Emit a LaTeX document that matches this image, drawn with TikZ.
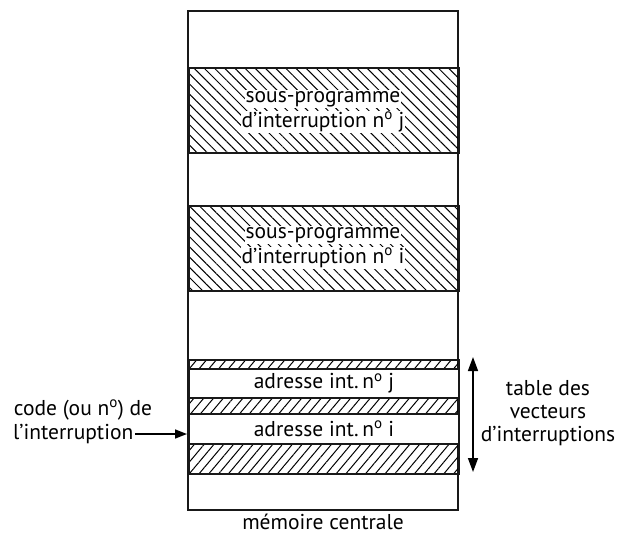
\documentclass[tikz,border=0pt]{standalone}
\usepackage{fontspec}
\setmainfont{PT Sans}
\usetikzlibrary{patterns.meta,arrows.meta}
\newcommand{\numo}{n\textsuperscript{o}}
\begin{document}
\begin{tikzpicture}[x=1pt,y=-1pt,
  frame/.style={draw=black!90,line width=2pt},
  hatchA/.style={frame,pattern={Lines[angle=-45,distance=7.2pt,line width=1pt]}},
  hatchB/.style={frame,pattern={Lines[angle=50,distance=7.5pt,line width=1pt]}},
  lab/.style={font=\fontsize{21.5}{23}\selectfont,inner sep=1.5pt},
  wlab/.style={lab,fill=white,inner sep=1pt},
  arr/.style={line width=1.5pt,-{Triangle[length=12pt,width=9pt]}}
]
\useasboundingbox (0,0) rectangle (619,536);
% memory
\draw[frame] (188,11) rectangle (458,510);
\coordinate (memW) at (187,434);
% sub-programs
\node[hatchA,minimum width=270pt,minimum height=85pt,anchor=north west] (spj) at (188,67) {};
\node[hatchA,minimum width=270pt,minimum height=85pt,anchor=north west] (spi) at (188,205) {};
\node[wlab] (spj1) at (323,99) {sous-programme};
\node[wlab] (spj2) at (323,122) {d'interruption \numo\ j};
\node[wlab] (spi1) at (323,235) {sous-programme};
\node[wlab] (spi2) at (323,258) {d'interruption \numo\ i};
% vector table
\node[hatchB,minimum width=270pt,minimum height=9pt,anchor=north west,inner sep=0pt] (h1) at (188,359) {};
\node[frame,fill=white,minimum width=270pt,minimum height=29pt,anchor=north west,inner sep=0pt] (aj) at (188,368) {};
\node[hatchB,minimum width=270pt,minimum height=16pt,anchor=north west,inner sep=0pt] (h2) at (188,397) {};
\node[frame,fill=white,minimum width=270pt,minimum height=30pt,anchor=north west,inner sep=0pt] (ai) at (188,413) {};
\node[hatchB,minimum width=270pt,minimum height=30pt,anchor=north west,inner sep=0pt] (h3) at (188,443) {};
\node[lab] (ajt) at (aj.center) {adresse int.\,\numo\ j};
\node[lab] (ait) at (ai.center) {adresse int.\,\numo\ i};
% left label
\node[lab] (code1) at (83,410) {code (ou \numo) de};
\node[lab,anchor=east] (code2) at (135,434) {l'interruption};
\draw[arr] (code2.east) -- (memW);
% right label
\coordinate (tt) at (473,357);
\coordinate (tb) at (473,472);
\draw[line width=1.5pt,{Triangle[length=14pt,width=10pt]}-{Triangle[length=14pt,width=10pt]}] (tt) -- (tb);
\node[lab,align=center] (tab) at (548,413) {table des\\vecteurs\\d'interruptions};
% caption
\node[lab,anchor=base,inner sep=0pt] (cap) at (323,529) {mémoire centrale};
\end{tikzpicture}
\end{document}
